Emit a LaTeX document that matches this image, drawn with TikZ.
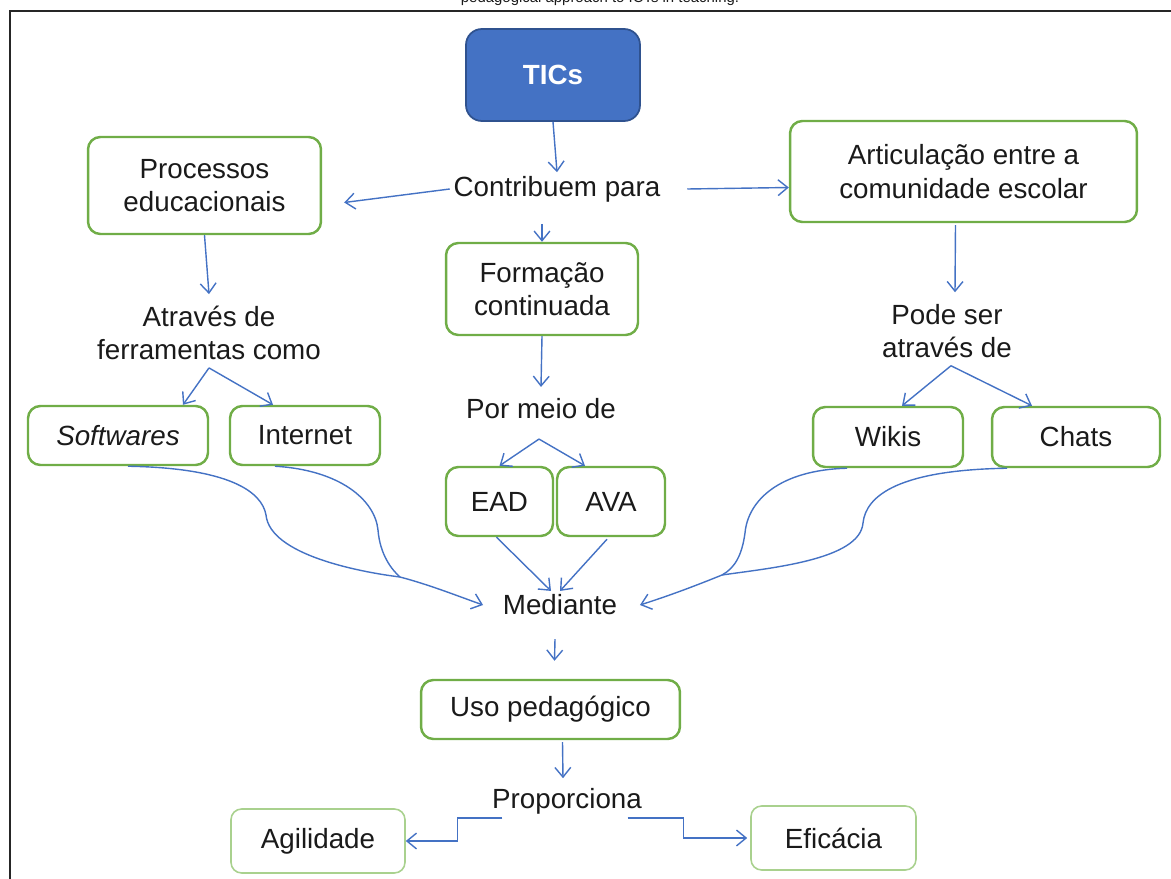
\documentclass[tikz,border=0pt]{standalone}
\usepackage{fontspec}
\setmainfont{Liberation Sans}
\usepackage{xcolor}
\usetikzlibrary{arrows.meta,calc}
\definecolor{boxgreen}{HTML}{70AD47}
\definecolor{softgreen}{HTML}{A9D18E}
\definecolor{linkblue}{HTML}{4472C4}
\definecolor{ticblue}{HTML}{4472C4}
\definecolor{ticedge}{HTML}{2F528F}
\definecolor{ink}{HTML}{1A1A1A}
\tikzset{
  every node/.style={font=\fontsize{15.8}{19}\selectfont,text=ink,inner sep=2pt},
  greenbox/.style={draw=boxgreen,line width=1.4pt,rounded corners=7pt,align=center},
  lightbox/.style={draw=softgreen,line width=0.9pt,rounded corners=6pt,align=center},
  word/.style={align=center},
  link/.style={draw=linkblue,line width=0.8pt,arrows=-{Straight Barb[length=5.5pt,width=9pt]}},
  joint/.style={draw=linkblue,line width=0.8pt},
}
\begin{document}
\begin{tikzpicture}[x=0.02cm,y=-0.02cm]
%\draw[help lines,step=50](0,0)grid(1171,879);
\useasboundingbox(0,0)rectangle(1171,879);
\node[font=\fontsize{8.5}{10}\selectfont,anchor=base](caption)at(600,3){pedagogical approach to ICTs in teaching.};
\draw[line width=1.2pt,black!85](10,11)rectangle(1190,900);

\node[fill=ticblue,draw=ticedge,line width=1pt,rounded corners=9pt,minimum width=3.48cm,minimum height=1.84cm,text=white,font=\fontsize{15.8}{19}\selectfont\bfseries](tics)at(553,75){TICs};
\node[word](contrib)at(557,189){Contribuem para};
\node[greenbox,minimum width=4.66cm,minimum height=1.94cm](proc)at(204.5,185.5){Processos\\educacionais};
\node[greenbox,minimum width=6.94cm,minimum height=2.02cm](artic)at(963.5,171.5){Articulação entre a\\comunidade escolar};
\node[greenbox,minimum width=3.84cm,minimum height=1.84cm](form)at(542,289){Formação\\continuada};

\node[word](atraves)at(209,333){Através de\\ferramentas como};
\node[word](podeser)at(947,331){Pode ser\\através de};
\node[word](pormeio)at(541,409){Por meio de};

\node[greenbox,minimum width=3.6cm,minimum height=1.18cm](soft)at(118,435.5){\itshape Softwares};
\node[greenbox,minimum width=3cm,minimum height=1.18cm](inet)at(305,435.5){Internet};
\node[greenbox,minimum width=3cm,minimum height=1.2cm](wikis)at(888,437){Wikis};
\node[greenbox,minimum width=3.36cm,minimum height=1.2cm](chats)at(1076,437){Chats};
\node[greenbox,minimum width=2.14cm,minimum height=1.38cm](ead)at(499.5,501.5){EAD};
\node[greenbox,minimum width=2.16cm,minimum height=1.38cm](ava)at(611,501.5){AVA};

\node[word](mediante)at(560,605){Mediante};
\node[greenbox,minimum width=5.18cm,minimum height=1.18cm](uso)at(550.5,709.5){Uso pedagógico};
\node[word](proporc)at(567,801){Proporciona};
\node[lightbox,minimum width=3.48cm,minimum height=1.28cm](agil)at(318,841){Agilidade};
\node[lightbox,minimum width=3.3cm,minimum height=1.28cm](efic)at(833.5,838){Eficácia};

\draw[link](tics.south)--(contrib.north);
\draw[link](contrib.west)--($(proc.east)+(22,17)$);
\draw[link]($(contrib.east)+(23,0)$)--($(artic.west)+(0,16)$);
\draw[link]($(contrib.south -| form.north)+(0,18)$)--(form.north);
\draw[link](proc.south)--($(atraves.north)+(0,-8)$);
\draw[link]($(artic.south)+(-8,2)$)--($(podeser.north)+(8,-8)$);
\draw[link](form.south)--($(pormeio.north)+(0,-8)$);

\draw[link]($(atraves.south)+(0,4)$)--($(soft.north)+(65,0)$);
\draw[link]($(atraves.south)+(0,4)$)--($(inet.north)+(-32,0)$);
\draw[link]($(podeser.south)+(4,4)$)--($(wikis.north)+(14,0)$);
\draw[link]($(podeser.south)+(4,4)$)--($(chats.north)+(-44,0)$);
\draw[link]($(pormeio.south)+(-2,16)$)--(ead.north);
\draw[link]($(pormeio.south)+(-2,16)$)--($(ava.north)+(-26,0)$);

\draw[link]($(ead.south)+(-3,0)$)--($(mediante.north)+(-9,0)$);
\draw[link]($(ava.south)+(-4,2)$)--(mediante.north);

\coordinate(mergeL)at(400,577);
\coordinate(mergeR)at(722,575);
\draw[joint]($(soft.south)+(10,0)$)..controls(230,468)and(262,492)..(266,515)..controls(270,555)and(360,572)..(mergeL);
\draw[joint]($(inet.south)+(-30,0)$)..controls(340,470)and(375,500)..(378,530)..controls(380,555)and(392,570)..(mergeL);
\draw[link](mergeL)..controls(430,585)and(455,595)..($(mediante.west)+(-16,0)$);
\draw[joint]($(wikis.south)+(-41,0)$)..controls(780,470)and(748,500)..(745,533)..controls(742,555)and(735,568)..(mergeR);
\draw[joint]($(chats.south)+(-69,0)$)..controls(900,470)and(866,495)..(863,523)..controls(860,560)and(770,568)..(mergeR);
\draw[link](mergeR)..controls(690,588)and(665,597)..($(mediante.east)+(19,0)$);

\draw[link]($(mediante.south)+(-5,20)$)--($(uso.north)+(4,-18)$);
\draw[link]($(uso.south)+(12,2)$)--($(proporc.north)+(-4,-6)$);
\draw[link]($(proporc.south west)+(14,0)$)--++(-45,0)|-(agil.east);
\draw[link]($(proporc.south east)+(-18,0)$)--++(56,0)|-($(efic.west)+(-3,0)$);
\end{tikzpicture}
\end{document}
